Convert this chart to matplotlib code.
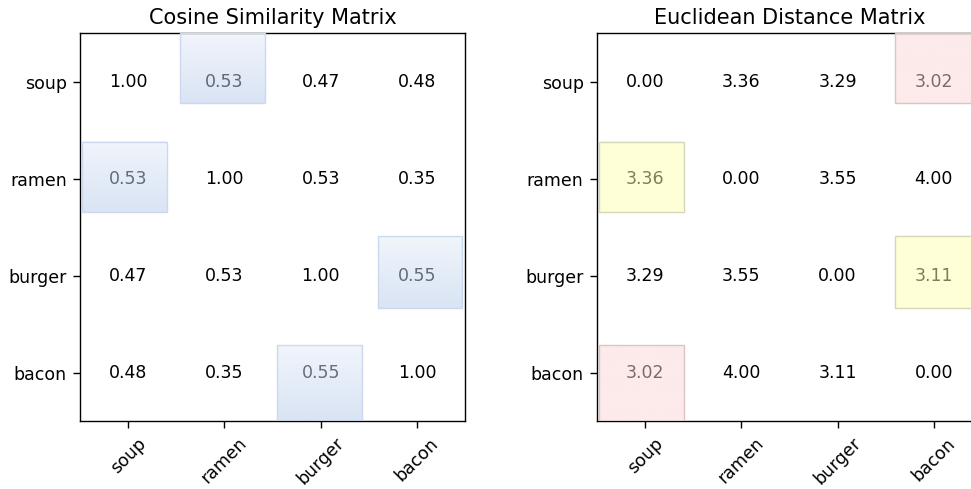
import numpy as np
import matplotlib
matplotlib.use("Agg")
import matplotlib.pyplot as plt
from matplotlib.patches import Rectangle
from matplotlib.colors import to_rgb

foods = ["soup", "ramen", "burger", "bacon"]

cosine = np.array([
    [1.00, 0.53, 0.47, 0.48],
    [0.53, 1.00, 0.53, 0.35],
    [0.47, 0.53, 1.00, 0.55],
    [0.48, 0.35, 0.55, 1.00],
])

euclid = np.array([
    [0.00, 3.36, 3.29, 3.02],
    [3.36, 0.00, 3.55, 4.00],
    [3.29, 3.55, 0.00, 3.11],
    [3.02, 4.00, 3.11, 0.00],
])

# nearest neighbour of each row (most similar / closest), drawn as a highlight
cos_nearest = [1, 0, 3, 2]
euc_nearest = [3, 0, 3, 0]
euc_colors = ["#fbd5d5", "#ffffaf", "#ffffaf", "#fbd5d5"]
euc_edges = ["#dcc4c4", "#d6d6b8", "#d6d6b8", "#dcc4c4"]

# extents of the highlight boxes inside each row / column
col_span = [(-0.48, 0.40), (0.54, 1.42), (1.55, 2.43), (2.60, 3.47)]
row_span = [(-0.50, 0.22), (0.62, 1.35), (1.59, 2.33), (2.72, 3.50)]

fig = plt.figure(figsize=(9.71 / 1.25, 4.89 / 1.25), dpi=125)
ax1 = fig.add_axes([0.0824, 0.139, 0.3965, 0.7935])
ax2 = fig.add_axes([0.6148, 0.139, 0.3965, 0.7935])


def setup(ax, mat, title):
    ax.set_xlim(-0.5, 3.5)
    ax.set_ylim(3.5, -0.5)
    ax.set_xticks(range(4))
    ax.set_yticks(range(4))
    ax.set_xticklabels(foods, rotation=45)
    ax.set_yticklabels(foods)
    ax.tick_params(length=4.2)
    ax.set_title(title, fontsize=12, pad=5)
    for i in range(4):
        for j in range(4):
            ax.text(j, i, f"{mat[i, j]:.2f}", ha="center", va="center",
                    fontsize=10, color="black", zorder=3)


def highlight(ax, i, j, top, bottom, edge):
    x0, x1 = col_span[j]
    y0, y1 = row_span[i]
    top = np.array(to_rgb(top))
    bottom = np.array(to_rgb(bottom))
    t = np.linspace(0, 1, 64)[:, None]
    grad = (top * (1 - t) + bottom * t)[:, None, :]
    ax.imshow(grad, extent=(x0, x1, y1, y0), aspect="auto", alpha=0.5,
              zorder=4, interpolation="bilinear")
    ax.add_patch(Rectangle((x0, y0), x1 - x0, y1 - y0, fill=False,
                           edgecolor=edge, lw=0.8, zorder=5))


setup(ax1, cosine, "Cosine Similarity Matrix")
setup(ax2, euclid, "Euclidean Distance Matrix")

for i, j in enumerate(cos_nearest):
    highlight(ax1, i, j, "#e3ebf8", "#b3c9e9", "#cbd8ee")

for i, j in enumerate(euc_nearest):
    highlight(ax2, i, j, euc_colors[i], euc_colors[i], euc_edges[i])

for ax in (ax1, ax2):
    ax.set_xlim(-0.5, 3.5)
    ax.set_ylim(3.5, -0.5)

fig.savefig("out.png", dpi=125)
